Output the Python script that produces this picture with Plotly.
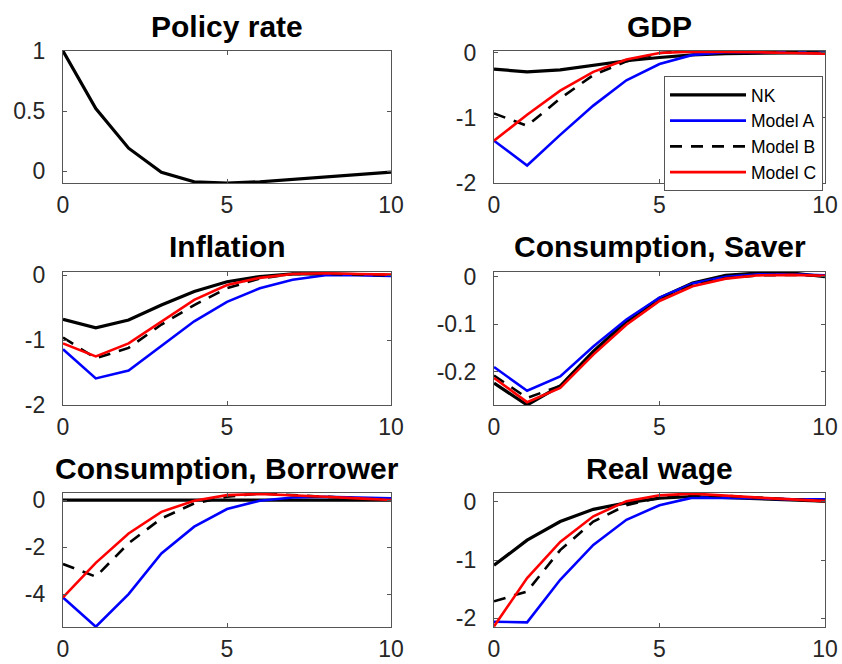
import plotly.graph_objects as go
from plotly.subplots import make_subplots

# Impulse responses to a monetary policy shock, quarters 0..10
quarters = list(range(11))

policy_rate = [1.0, 0.52, 0.19, -0.01, -0.09, -0.10, -0.09, -0.07, -0.05, -0.03, -0.01]

gdp_nk = [-0.25, -0.29, -0.26, -0.19, -0.12, -0.07, -0.03, -0.01, 0.0, 0.0, 0.0]
gdp_a = [-1.35, -1.73, -1.26, -0.81, -0.42, -0.17, -0.03, 0.01, 0.01, 0.01, 0.0]
gdp_b = [-0.93, -1.12, -0.70, -0.34, -0.13, 0.0, 0.03, 0.03, 0.02, 0.01, 0.0]
gdp_c = [-1.35, -0.95, -0.58, -0.29, -0.10, 0.0, 0.02, 0.02, 0.01, 0.0, -0.01]

infl_nk = [-0.68, -0.81, -0.69, -0.46, -0.25, -0.10, -0.02, 0.02, 0.02, 0.01, 0.0]
infl_a = [-1.14, -1.59, -1.47, -1.09, -0.71, -0.41, -0.20, -0.07, 0.0, 0.0, -0.01]
infl_b = [-0.96, -1.28, -1.12, -0.76, -0.46, -0.20, -0.05, 0.02, 0.02, 0.01, 0.0]
infl_c = [-1.05, -1.25, -1.05, -0.71, -0.38, -0.15, -0.04, 0.02, 0.03, 0.02, 0.01]

csav_nk = [-0.224, -0.270, -0.230, -0.157, -0.094, -0.045, -0.013, 0.003, 0.008, 0.008, 0.0]
csav_a = [-0.190, -0.240, -0.210, -0.147, -0.090, -0.044, -0.014, 0.0, 0.005, 0.005, 0.003]
csav_b = [-0.208, -0.255, -0.230, -0.160, -0.098, -0.049, -0.018, -0.003, 0.003, 0.004, 0.002]
csav_c = [-0.213, -0.264, -0.234, -0.164, -0.101, -0.051, -0.020, -0.004, 0.003, 0.004, 0.002]

cbor_nk = [0.0] * 11
cbor_a = [-4.14, -5.39, -4.00, -2.27, -1.13, -0.38, -0.03, 0.11, 0.14, 0.10, 0.07]
cbor_b = [-2.72, -3.26, -1.84, -0.78, -0.14, 0.14, 0.28, 0.21, 0.12, 0.05, 0.0]
cbor_c = [-4.14, -2.67, -1.42, -0.50, -0.03, 0.21, 0.26, 0.21, 0.14, 0.07, 0.0]

wage_nk = [-1.09, -0.66, -0.34, -0.13, -0.02, 0.06, 0.09, 0.07, 0.05, 0.03, 0.01]
wage_a = [-2.06, -2.07, -1.34, -0.74, -0.31, -0.06, 0.07, 0.07, 0.06, 0.04, 0.04]
wage_b = [-1.71, -1.54, -0.83, -0.34, -0.06, 0.07, 0.11, 0.10, 0.07, 0.04, 0.01]
wage_c = [-2.14, -1.31, -0.69, -0.25, 0.01, 0.11, 0.14, 0.10, 0.07, 0.04, 0.01]

titles = ["Policy rate", "GDP", "Inflation", "Consumption, Saver",
          "Consumption, Borrower", "Real wage"]
model_names = ["NK", "Model A", "Model B", "Model C"]
y_ranges = [[-0.1, 1.0], [-2.0, 0.03], [-2.0, 0.05], [-0.27, 0.01],
            [-5.4, 0.3], [-2.15, 0.15]]
y_ticks = [[0, 0.5, 1], [-2, -1, 0], [-2, -1, 0], [-0.2, -0.1, 0],
           [-4, -2, 0], [-2, -1, 0]]
y_ticktext = [["0", "0.5", "1"], ["-2", "-1", "0"], ["-2", "-1", "0"],
              ["-0.2", "-0.1", "0"], ["-4", "-2", "0"], ["-2", "-1", "0"]]
x_ticks = [0, 5, 10]

panels = [
    [policy_rate],
    [gdp_nk, gdp_a, gdp_b, gdp_c],
    [infl_nk, infl_a, infl_b, infl_c],
    [csav_nk, csav_a, csav_b, csav_c],
    [cbor_nk, cbor_a, cbor_b, cbor_c],
    [wage_nk, wage_a, wage_b, wage_c],
]

styles = [
    dict(color="#000000", width=3.2, dash="solid"),
    dict(color="#0000FF", width=2.6, dash="solid"),
    dict(color="#000000", width=2.6, dash="12px,9px"),
    dict(color="#FF0000", width=2.6, dash="solid"),
]

W, H = 842, 664
col_px = [(63, 391), (494, 825)]
row_px = [(51, 183), (272, 405), (493, 627)]
title_y_px = [26, 247, 468]

fig = make_subplots(rows=3, cols=2)

for i, series in enumerate(panels):
    r, c = i // 2 + 1, i % 2 + 1
    for j, vals in enumerate(series):
        fig.add_trace(
            go.Scatter(
                x=quarters, y=vals, mode="lines",
                line=styles[j],
                name=model_names[j],
                showlegend=(i == 1),
            ),
            row=r, col=c,
        )

font_family = "Liberation Sans, Arial, Helvetica, sans-serif"
axis_common = dict(
    showgrid=False, zeroline=False, showline=True, mirror="ticks",
    linecolor="#555555", linewidth=1.2,
    ticks="inside", ticklen=4, tickcolor="#555555", tickwidth=1,
    tickfont=dict(family=font_family, size=23, color="#262626"),
    automargin=False,
)

for i in range(6):
    r, c = i // 2, i % 2
    x0, x1 = col_px[c]
    top, bot = row_px[r]
    idx = "" if i == 0 else str(i + 1)
    fig.layout["xaxis" + idx].update(
        domain=[x0 / W, x1 / W], range=[0, 10],
        tickvals=x_ticks, ticklabelstandoff=1, **axis_common,
    )
    fig.layout["yaxis" + idx].update(
        domain=[1 - bot / H, 1 - top / H], range=y_ranges[i],
        tickvals=y_ticks[i], ticktext=y_ticktext[i],
        ticklabelstandoff=12, **axis_common,
    )
    fig.add_annotation(
        text="<b>" + titles[i] + "</b>", xref="paper", yref="paper",
        x=(x0 + x1) / 2 / W, y=1 - title_y_px[r] / H,
        xanchor="center", yanchor="middle", showarrow=False,
        font=dict(family=font_family, size=30, color="#000000"),
    )

fig.update_layout(
    width=W, height=H,
    margin=dict(l=0, r=0, t=0, b=0, autoexpand=False),
    paper_bgcolor="white", plot_bgcolor="white",
    legend=dict(
        x=823 / W, y=1 - 76 / H, xanchor="right", yanchor="top",
        bgcolor="white", bordercolor="#555555", borderwidth=1,
        font=dict(family=font_family, size=17.5, color="#000000"),
        itemwidth=76, tracegroupgap=0,
    ),
)

fig.write_html("out.html")
